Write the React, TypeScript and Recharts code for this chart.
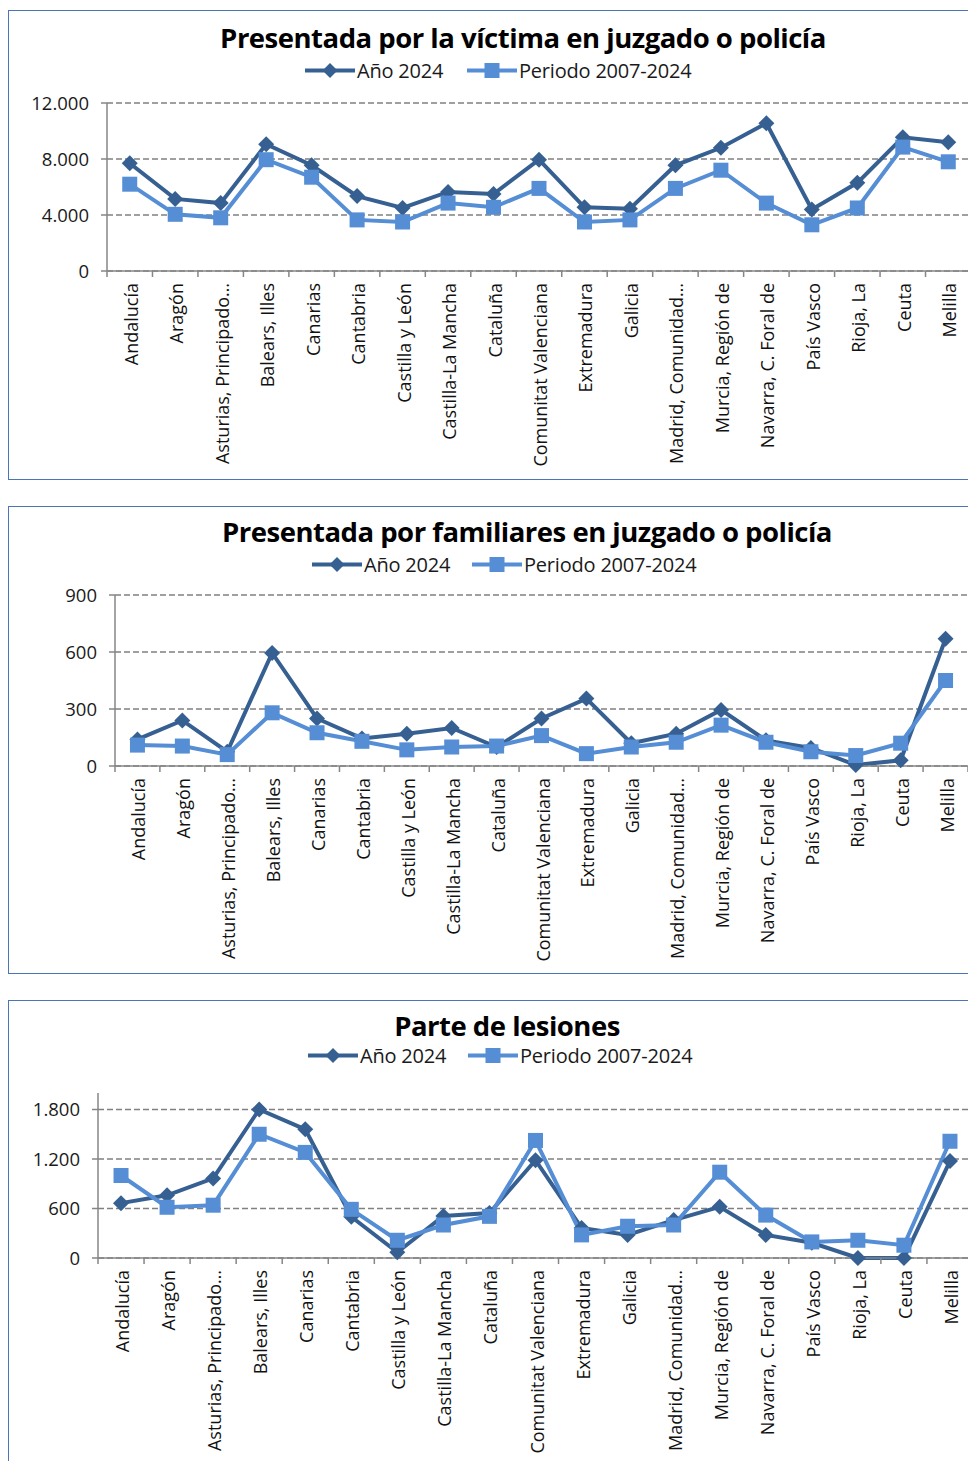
import { CartesianGrid, Line, LineChart, XAxis, YAxis } from "recharts";

const REGIONS = [
  "Andalucía",
  "Aragón",
  "Asturias, Principado…",
  "Balears, Illes",
  "Canarias",
  "Cantabria",
  "Castilla y León",
  "Castilla-La Mancha",
  "Cataluña",
  "Comunitat Valenciana",
  "Extremadura",
  "Galicia",
  "Madrid, Comunidad…",
  "Murcia,  Región de",
  "Navarra, C. Foral de",
  "País Vasco",
  "Rioja, La",
  "Ceuta",
  "Melilla",
];

// Presentada por la víctima en juzgado o policía
const VICTIMA_2024 = [7700, 5150, 4850, 9050, 7550, 5350, 4500, 5650, 5500, 7950, 4550, 4450, 7550, 8800, 10550, 4400, 6300, 9550, 9200];
const VICTIMA_PERIODO = [6200, 4050, 3800, 7950, 6700, 3650, 3500, 4850, 4550, 5900, 3500, 3650, 5900, 7200, 4850, 3300, 4500, 8850, 7800];

// Presentada por familiares en juzgado o policía
const FAMILIARES_2024 = [140, 240, 75, 595, 250, 145, 170, 200, 100, 250, 355, 120, 170, 295, 135, 95, 5, 30, 670];
const FAMILIARES_PERIODO = [110, 105, 60, 280, 175, 130, 85, 100, 105, 160, 65, 100, 125, 215, 125, 75, 55, 120, 450];

// Parte de lesiones
const LESIONES_2024 = [665, 760, 965, 1800, 1560, 500, 70, 510, 545, 1185, 365, 280, 460, 620, 280, 185, 0, 0, 1175];
const LESIONES_PERIODO = [1000, 615, 640, 1500, 1280, 590, 215, 400, 505, 1425, 280, 385, 400, 1040, 520, 195, 215, 155, 1415];

const VICTIMA_TICKS = [0, 4000, 8000, 12000];
const FAMILIARES_TICKS = [0, 300, 600, 900];
const LESIONES_TICKS = [0, 600, 1200, 1800];

const DARK = "#376092";
const LIGHT = "#558ed5";
const AXIS = "#868686";
const FONT = '"Open Sans", sans-serif';
const INNER_W = 966;
const XAXIS_H = 190;

function formatThousands(value: number) {
  return String(value).replace(/\B(?=(\d{3})+(?!\d))/g, ".");
}

function buildRows(anio: number[], periodo: number[]) {
  return REGIONS.map((region, i) => ({ region, anio: anio[i], periodo: periodo[i] }));
}

function Diamond({ cx, cy, fill, size = 8 }: any) {
  if (cx == null || cy == null) return null;
  return (
    <polygon
      points={`${cx},${cy - size} ${cx + size},${cy} ${cx},${cy + size} ${cx - size},${cy}`}
      fill={fill}
    />
  );
}

function Square({ cx, cy, fill, size = 7.5 }: any) {
  if (cx == null || cy == null) return null;
  return <rect x={cx - size} y={cy - size} width={size * 2} height={size * 2} fill={fill} />;
}

function LegendIcon({ kind }: { kind: "diamond" | "square" }) {
  const color = kind === "diamond" ? DARK : LIGHT;
  return (
    <svg width={50} height={18} style={{ display: "block" }}>
      <line x1={0} y1={9} x2={50} y2={9} stroke={color} strokeWidth={4} />
      {kind === "diamond" ? (
        <Diamond cx={25} cy={9} fill={color} size={7.5} />
      ) : (
        <Square cx={25} cy={9} fill={color} size={7.5} />
      )}
    </svg>
  );
}

type PanelProps = {
  title: string;
  titleX: number;
  titleY: number;
  legendY: number;
  legendX: [number, number];
  rows: { region: string; anio: number; periodo: number }[];
  ticks: number[];
  yMax: number;
  axisX: number;
  plotTop: number;
  plotBottom: number;
  plotRight: number;
  height: number;
  marginTop: number;
};

function Panel(p: PanelProps) {
  const plotW = p.plotRight - p.axisX;
  const step = plotW / REGIONS.length;
  const half = step / 2;

  const renderTick = (props: any) => {
    const { x, y, payload, index } = props;
    return (
      <g>
        <line x1={x - half} y1={y} x2={x - half} y2={y + 6} stroke={AXIS} strokeWidth={1.5} />
        {index === REGIONS.length - 1 && (
          <line x1={x + half} y1={y} x2={x + half} y2={y + 6} stroke={AXIS} strokeWidth={1.5} />
        )}
        <text
          x={0}
          y={0}
          transform={`translate(${x + 1},${y + 12}) rotate(-90)`}
          textAnchor="end"
          dominantBaseline="central"
          fontFamily={FONT}
          fontSize={18}
          fill="#111"
        >
          {payload.value}
        </text>
      </g>
    );
  };

  return (
    <div
      style={{
        position: "relative",
        width: 968,
        height: p.height,
        boxSizing: "border-box",
        border: "1px solid #4a76b8",
        marginTop: p.marginTop,
        background: "#fff",
      }}
    >
      <LineChart
        width={INNER_W}
        height={p.height - 2}
        data={p.rows}
        margin={{
          top: p.plotTop,
          right: INNER_W - p.plotRight,
          bottom: p.height - 2 - p.plotBottom - XAXIS_H,
          left: 0,
        }}
      >
        <CartesianGrid
          vertical={false}
          horizontalValues={p.ticks}
          stroke="#808080"
          strokeWidth={1.5}
          strokeDasharray="6 3"
        />
        <XAxis
          dataKey="region"
          interval={0}
          height={XAXIS_H}
          padding={{ left: half, right: half }}
          axisLine={{ stroke: AXIS, strokeWidth: 1.5 }}
          tickLine={false}
          tickSize={0}
          tickMargin={0}
          tick={renderTick}
        />
        <YAxis
          width={p.axisX}
          domain={[0, p.yMax]}
          ticks={p.ticks}
          interval={0}
          tickFormatter={formatThousands}
          axisLine={{ stroke: AXIS, strokeWidth: 1.5 }}
          tickLine={{ stroke: AXIS, strokeWidth: 1.5 }}
          tickSize={6}
          tickMargin={12}
          tick={{ fill: "#1a1a1a", fontSize: 18.5, fontFamily: FONT }}
        />
        <Line
          dataKey="anio"
          name="Año 2024"
          stroke={DARK}
          strokeWidth={4}
          isAnimationActive={false}
          dot={(d: any) => <Diamond key={`d${d.index}`} cx={d.cx} cy={d.cy} fill={DARK} size={8} />}
          activeDot={false}
        />
        <Line
          dataKey="periodo"
          name="Periodo 2007-2024"
          stroke={LIGHT}
          strokeWidth={4}
          isAnimationActive={false}
          dot={(d: any) => <Square key={`s${d.index}`} cx={d.cx} cy={d.cy} fill={LIGHT} size={7.5} />}
          activeDot={false}
        />
      </LineChart>

      <div
        style={{
          position: "absolute",
          left: p.titleX,
          top: p.titleY,
          transform: "translate(-50%, -50%)",
          whiteSpace: "nowrap",
          fontFamily: FONT,
          fontWeight: 700,
          fontSize: 27.5,
          letterSpacing: -0.5,
          color: "#000",
        }}
      >
        {p.title}
      </div>

      {[
        { kind: "diamond" as const, label: "Año 2024", x: p.legendX[0] },
        { kind: "square" as const, label: "Periodo 2007-2024", x: p.legendX[1] },
      ].map((item) => (
        <div
          key={item.label}
          style={{
            position: "absolute",
            left: item.x,
            top: p.legendY,
            transform: "translateY(-50%)",
            display: "flex",
            alignItems: "center",
            gap: 2,
            whiteSpace: "nowrap",
            fontFamily: FONT,
            fontSize: 20,
            letterSpacing: -0.2,
            color: "#1a1a1a",
          }}
        >
          <LegendIcon kind={item.kind} />
          <span>{item.label}</span>
        </div>
      ))}
    </div>
  );
}

export default function App() {
  return (
    <div style={{ width: 968 }}>
      <Panel
        title="Presentada por la víctima en juzgado o policía"
        titleX={514}
        titleY={26}
        legendY={59}
        legendX={[296, 458]}
        rows={buildRows(VICTIMA_2024, VICTIMA_PERIODO)}
        ticks={VICTIMA_TICKS}
        yMax={12000}
        axisX={98}
        plotTop={92}
        plotBottom={260}
        plotRight={962}
        height={470}
        marginTop={2}
      />
      <Panel
        title="Presentada por familiares en juzgado o policía"
        titleX={518}
        titleY={24}
        legendY={57}
        legendX={[303, 463]}
        rows={buildRows(FAMILIARES_2024, FAMILIARES_PERIODO)}
        ticks={FAMILIARES_TICKS}
        yMax={900}
        axisX={106}
        plotTop={88}
        plotBottom={259}
        plotRight={959}
        height={468}
        marginTop={26}
      />
      <Panel
        title="Parte de lesiones"
        titleX={498}
        titleY={24}
        legendY={54}
        legendX={[299, 459]}
        rows={buildRows(LESIONES_2024, LESIONES_PERIODO)}
        ticks={LESIONES_TICKS}
        yMax={2000}
        axisX={89}
        plotTop={92}
        plotBottom={257}
        plotRight={964}
        height={470}
        marginTop={26}
      />
    </div>
  );
}
